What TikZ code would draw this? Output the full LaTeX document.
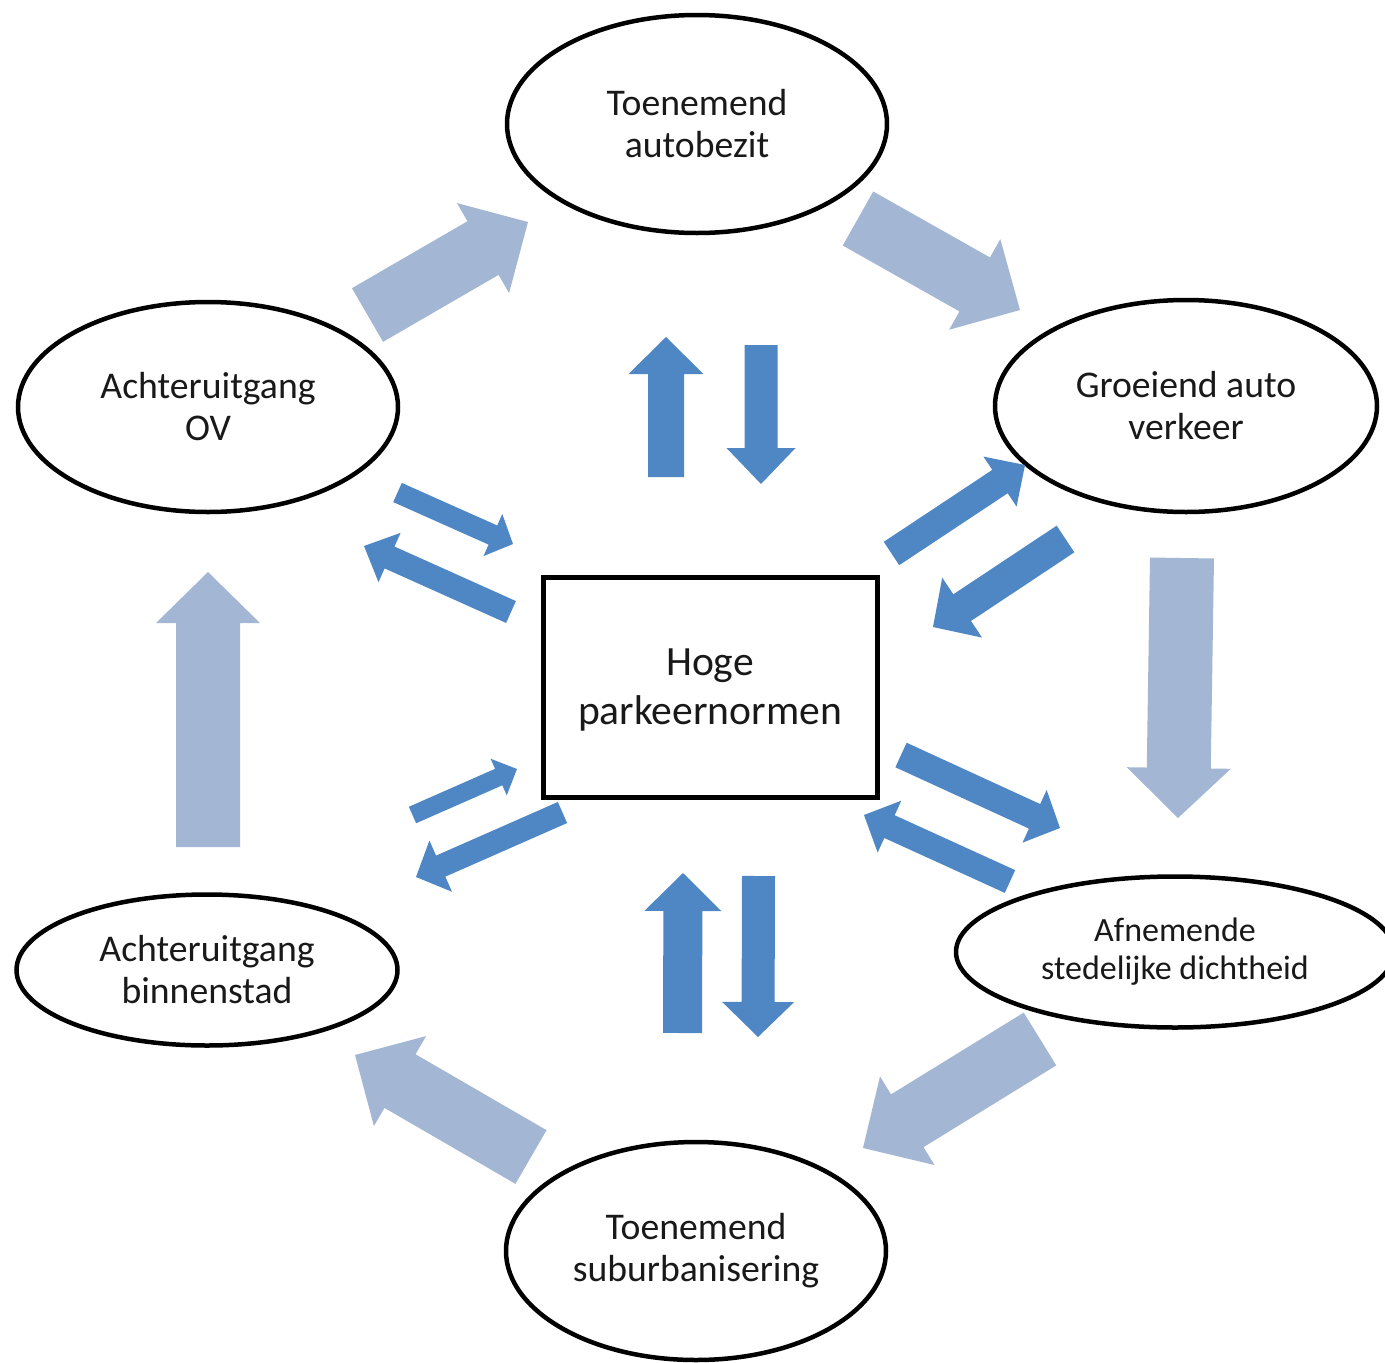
\documentclass[tikz,border=0pt]{standalone}
\usepackage{fontspec}
\setmainfont{Carlito}
\usetikzlibrary{shapes.geometric,calc}
\definecolor{lightarrow}{RGB}{163,183,212}
\definecolor{darkarrow}{RGB}{79,135,197}
\definecolor{txt}{RGB}{25,25,25}
% style, tail, tip, half shaft width, half head width, head length
\newcommand{\blockarrow}[6]{%
  \coordinate (bajoint) at ($(#3)!#6pt!(#2)$);
  \fill[#1] ($(#2)!#4pt!90:(#3)$) -- ($(bajoint)!#4pt!90:(#3)$) -- ($(bajoint)!#5pt!90:(#3)$) -- (#3)
    -- ($(bajoint)!#5pt!-90:(#3)$) -- ($(bajoint)!#4pt!-90:(#3)$) -- ($(#2)!#4pt!-90:(#3)$) -- cycle;}
\begin{document}
\begin{tikzpicture}[x=1pt,y=-1pt,
  ell/.style={ellipse, draw=black, line width=4.5pt, inner sep=0pt, align=center, text=txt,
    font=\fontsize{37.7}{42}\selectfont},
  bigarrow/.style={fill=lightarrow},
  smallarrow/.style={fill=darkarrow}]
\useasboundingbox (0,0) rectangle (1385,1363);
\clip (0,0) rectangle (1385,1363);
\fill[white] (0,0) rectangle (1385,1363);

% nodes
\node[ell, minimum width=380pt, minimum height=218pt] (top) at (697,124) {Toenemend\\autobezit};
\node[ell, minimum width=380pt, minimum height=210pt] (ov) at (208,407) {Achteruitgang\\OV};
\node[ell, minimum width=382pt, minimum height=212pt] (verkeer) at (1186,406) {Groeiend auto\\verkeer};
\node[ell, minimum width=438pt, minimum height=151pt, font=\fontsize{34}{38}\selectfont] (dicht) at (1175,952) {Afnemende\\stedelijke dichtheid};
\node[ell, minimum width=381pt, minimum height=151pt] (binnen) at (207,970) {Achteruitgang\\binnenstad};
\node[ell, minimum width=380pt, minimum height=218pt] (sub) at (696,1251) {Toenemend\\suburbanisering};
\node[draw=black, line width=5pt, minimum width=334pt, minimum height=220pt, inner sep=0pt, align=center,
  text=txt, font=\fontsize{41.6}{49}\selectfont] (hoge) at (710,687) {};
\node[align=center, text=txt, font=\fontsize{41.6}{49}\selectfont, inner sep=0pt] (hogetext) at (710,690) {Hoge\\parkeernormen};

% light cycle arrows
\coordinate (l1a) at (367.5,315);  \coordinate (l1b) at (528,222);
\coordinate (l2a) at (858,218.5);  \coordinate (l2b) at (1020,310);
\coordinate (l3a) at (1182,558);   \coordinate (l3b) at (1178,818);
\coordinate (l4a) at (1040,1039);  \coordinate (l4b) at (863,1148);
\coordinate (l5a) at (531,1157);   \coordinate (l5b) at (355,1055);
\coordinate (l6a) at (208,847);    \coordinate (l6b) at (208,572);
\blockarrow{bigarrow}{l1a}{l1b}{31}{52}{52}
\blockarrow{bigarrow}{l2a}{l2b}{31}{52}{52}
\blockarrow{bigarrow}{l3a}{l3b}{32}{52}{50}
\blockarrow{bigarrow}{l4a}{l4b}{31}{52}{52}
\blockarrow{bigarrow}{l5a}{l5b}{31}{52}{52}
\blockarrow{bigarrow}{l6a}{l6b}{32}{52}{51}

% dark arrows to/from centre
\coordinate (d1a) at (666,477);     \coordinate (d1b) at (666,337);
\coordinate (d2a) at (761,345);     \coordinate (d2b) at (761,484);
\coordinate (d3a) at (397.5,492.5); \coordinate (d3b) at (513,544);
\coordinate (d4a) at (511,612);     \coordinate (d4b) at (364,546);
\coordinate (d5a) at (891.5,553.5); \coordinate (d5b) at (1025,465);
\coordinate (d6a) at (1065.5,539);  \coordinate (d6b) at (933,627);
\coordinate (d7a) at (412.5,815);   \coordinate (d7b) at (517,769);
\coordinate (d8a) at (562.5,812.5); \coordinate (d8b) at (416,877);
\coordinate (d9a) at (901,755);     \coordinate (d9b) at (1060,828);
\coordinate (d10a) at (1010,881.5); \coordinate (d10b) at (864,815);
\coordinate (d11a) at (682.5,1033); \coordinate (d11b) at (683,873);
\coordinate (d12a) at (758.5,876);  \coordinate (d12b) at (758,1037);
\blockarrow{smallarrow}{d1a}{d1b}{18}{37.5}{37}
\blockarrow{smallarrow}{d2a}{d2b}{16.5}{34.5}{36}
\blockarrow{smallarrow}{d3a}{d3b}{10.5}{23}{22}
\blockarrow{smallarrow}{d4a}{d4b}{12}{27}{28}
\blockarrow{smallarrow}{d5a}{d5b}{14}{30}{30}
\blockarrow{smallarrow}{d6a}{d6b}{16}{36}{35}
\blockarrow{smallarrow}{d7a}{d7b}{9}{20}{20}
\blockarrow{smallarrow}{d8a}{d8b}{11.5}{28}{27}
\blockarrow{smallarrow}{d9a}{d9b}{13.5}{29}{28}
\blockarrow{smallarrow}{d10a}{d10b}{12.5}{28.5}{28}
\blockarrow{smallarrow}{d11a}{d11b}{19.5}{38.5}{38}
\blockarrow{smallarrow}{d12a}{d12b}{16.5}{36}{35}
\end{tikzpicture}
\end{document}
